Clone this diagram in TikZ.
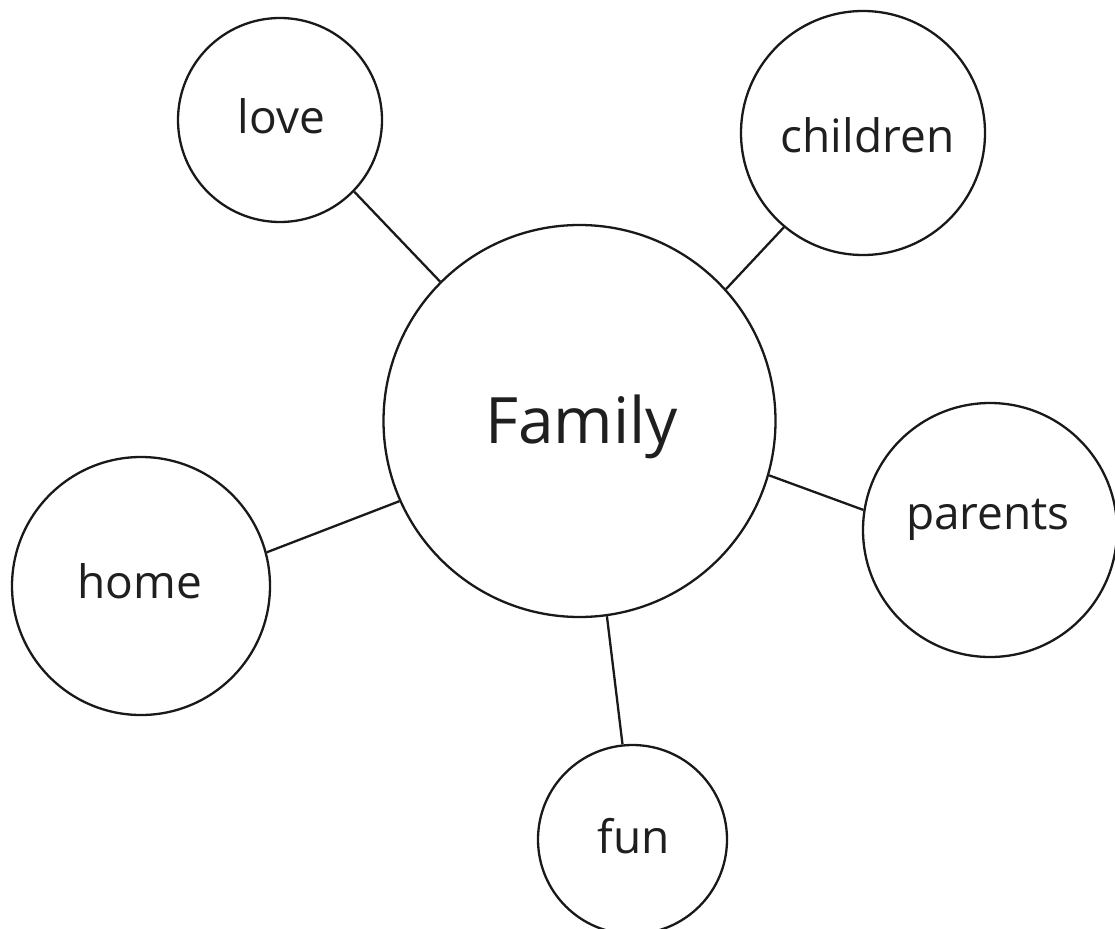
\documentclass[tikz,border=0pt]{standalone}
\usepackage{fontspec}
\setmainfont{Open Sans}
\begin{document}
\begin{tikzpicture}[x=1pt,y=-1pt,
  bubble/.style={draw=black!90, line width=2.3pt, circle, inner sep=0pt, fill=white},
  lbl/.style={anchor=base, inner sep=0pt, text=black!88},
  big/.style={font=\fontsize{64}{70}\selectfont},
  small/.style={font=\fontsize{46}{52}\selectfont},
  link/.style={draw=black!90, line width=2.3pt}]
\useasboundingbox (0,0) rectangle (1115,928);
\node[bubble, minimum size=392pt] (family) at (579.5,421) {};
\node[bubble, minimum size=204pt] (love) at (280,120) {};
\node[bubble, minimum size=244pt] (children) at (863,133) {};
\node[bubble, minimum size=254pt] (parents) at (990,530) {};
\node[bubble, minimum size=258pt] (home) at (141,586) {};
\node[bubble, minimum size=189pt] (fun) at (632.5,839.5) {};
\draw[link] (family.135.5) -- (love.-44.6);
\draw[link] (family.42.4) -- (children.-130.5);
\draw[link] (family.-16.5) -- (parents.171.5);
\draw[link] (family.204) -- (home.15.8);
\draw[link] (family.-82.6) -- (fun.96.3);
\node[lbl, big] (tfamily) at (581.5,443) {Family};
\node[lbl, small] (tlove) at (281.5,134) {love};
\node[lbl, small] (tchildren) at (867.5,153) {children};
\node[lbl, small] (tparents) at (988,529) {parents};
\node[lbl, small] (thome) at (140,598) {home};
\node[lbl, small] (tfun) at (634,853) {fun};
\end{tikzpicture}
\end{document}
